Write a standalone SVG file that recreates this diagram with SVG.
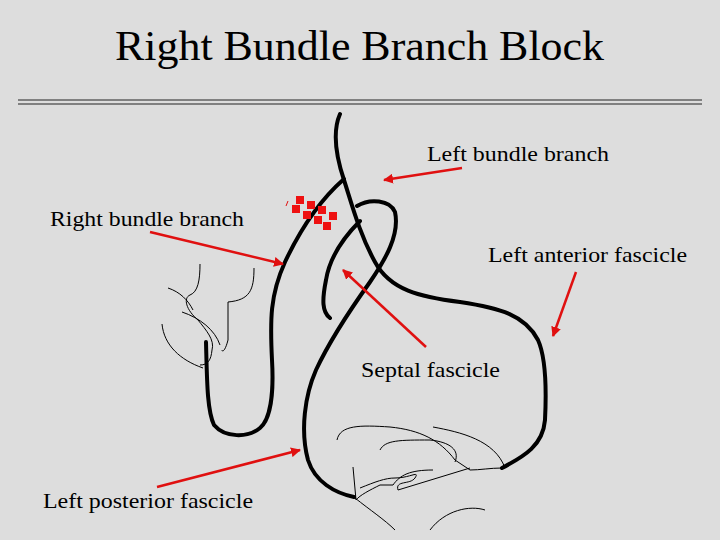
<svg xmlns="http://www.w3.org/2000/svg" width="720" height="540" viewBox="0 0 720 540">
<defs>
<style>
.t{font-family:"Liberation Serif",serif;fill:#000}
.thick{fill:none;stroke:#000;stroke-width:4;stroke-linecap:round;stroke-linejoin:round}
.thin{fill:none;stroke:#000;stroke-width:1}
.arr{stroke:#e01010;stroke-width:2.5;fill:none;marker-end:url(#ah)}
.sq{fill:#ee1111}
</style>
<marker id="ah" viewBox="0 0 10 10" refX="9" refY="5" markerWidth="4" markerHeight="4" orient="auto"><path d="M0,0L10,5L0,10z" fill="#e01010"/></marker>
</defs>
<rect width="720" height="540" fill="#dddddd"/>
<text class="t" x="115" y="60" font-size="43" textLength="489" lengthAdjust="spacingAndGlyphs">Right Bundle Branch Block</text>
<line x1="18" y1="100" x2="702" y2="100" stroke="#808080" stroke-width="2"/>
<line x1="18" y1="104" x2="702" y2="104" stroke="#808080" stroke-width="2"/>
<g id="heart">
<path class="thick" d="M340,114 C333,130 334,150 344,180 C352,205 360,235 375,262 C390,290 420,297 460,302 C500,308 525,315 538,340 C547,360 546,400 545,420 C543,445 525,456 502,468"/>
<path class="thick" d="M344,179 C320,200 300,230 285,262 C270,295 270,320 272,360 C274,395 270,420 260,428 C248,438 225,438 214,425 C207,410 207,380 206,342"/>
<path class="thick" d="M357,206 C370,198 390,200 395,212 C400,235 385,260 370,282 C350,310 330,340 316,370 C305,395 300,430 308,460 C315,482 335,493 354,497"/>
<path class="thick" d="M360,221 C345,236 330,255 326,280 C322,300 322,312 330,318"/>
</g>
<g id="fibers">
<path class="thin" d="M200,264 C200,280 198,292 190,295 C183,298 186,310 198,320 C206,330 215,340 212,350 C211,360 208,365 200,365"/>
<path class="thin" d="M168,288 C180,292 188,300 193,310"/>
<path class="thin" d="M182,312 C200,318 215,330 220,345"/>
<path class="thin" d="M162,324 C164,345 180,360 203,368"/>
<path class="thin" d="M254,268 C254,290 250,300 228,302 L228,340 C225,352 222,352 222,350"/>
<path class="thin" d="M337,440 C340,425 360,425 390,427 C420,430 440,440 455,460 L470,470 C480,470 490,468 502,468"/>
<path class="thin" d="M380,450 C385,440 400,440 430,440 C450,442 460,450 455,462"/>
<path class="thin" d="M433,427 C460,432 495,440 505,468"/>
<path class="thin" d="M353,467 L356,500 C360,495 370,490 380,485 L393,485 C400,475 410,470 433,470"/>
<path class="thin" d="M360,488 C375,482 385,478 395,478 C410,478 420,470 415,478 C410,485 395,480 398,490 L470,468"/>
<path class="thin" d="M355,498 C370,510 385,520 395,530"/>
<path class="thin" d="M430,530 C445,510 470,505 485,510"/>
</g>
<g id="block">
<rect class="sq" x="296" y="196" width="8" height="8"/>
<rect class="sq" x="307" y="201" width="8" height="8"/>
<rect class="sq" x="318" y="206" width="8" height="8"/>
<rect class="sq" x="329" y="212" width="8" height="8"/>
<rect class="sq" x="292" y="205" width="8" height="8"/>
<rect class="sq" x="303" y="211" width="8" height="8"/>
<rect class="sq" x="314" y="216" width="8" height="8"/>
<rect class="sq" x="323" y="222" width="8" height="8"/>
<line x1="286" y1="206" x2="288" y2="201" stroke="#e01010" stroke-width="1"/>
</g>
<g id="connectors">
<line class="arr" x1="462" y1="168" x2="384" y2="180"/>
<line class="arr" x1="150" y1="232" x2="283" y2="264"/>
<line class="arr" x1="576" y1="272" x2="553" y2="336"/>
<line class="arr" x1="426" y1="347" x2="343" y2="270"/>
<line class="arr" x1="157" y1="487" x2="300" y2="450"/>
</g>
<g id="labels">
<text class="t" x="427" y="161" font-size="22" textLength="182" lengthAdjust="spacingAndGlyphs">Left bundle branch</text>
<text class="t" x="50" y="226" font-size="22" textLength="194" lengthAdjust="spacingAndGlyphs">Right bundle branch</text>
<text class="t" x="488" y="262" font-size="22" textLength="199" lengthAdjust="spacingAndGlyphs">Left anterior fascicle</text>
<text class="t" x="361" y="377" font-size="22" textLength="139" lengthAdjust="spacingAndGlyphs">Septal fascicle</text>
<text class="t" x="43" y="508" font-size="22" textLength="210" lengthAdjust="spacingAndGlyphs">Left posterior fascicle</text>
</g>
</svg>
